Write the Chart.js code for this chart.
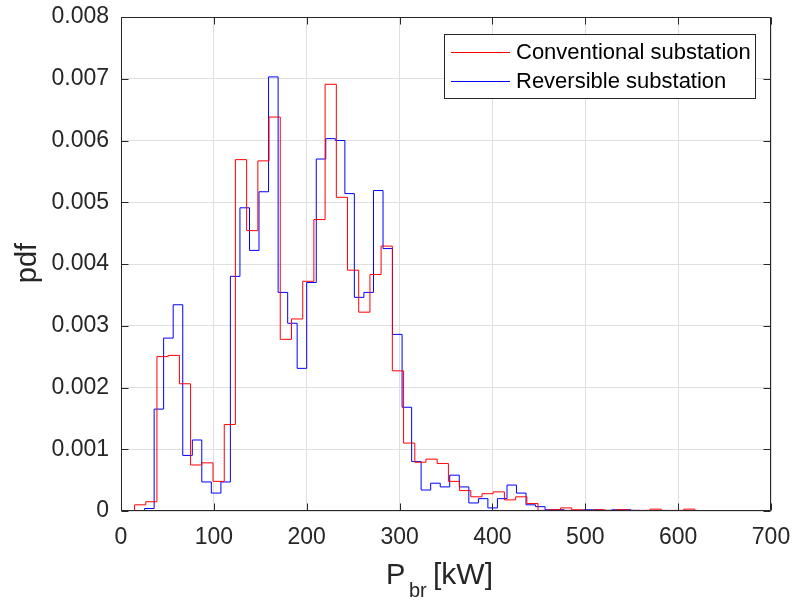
<!DOCTYPE html>
<html><head><meta charset="utf-8">
<script src="https://cdn.jsdelivr.net/npm/chart.js@4.4.0/dist/chart.umd.min.js"></script>
<style>html,body{margin:0;padding:0;background:#fff;} canvas{display:block;}</style>
</head><body>
<canvas id="c" width="794" height="601"></canvas>
<script>
// ---- data ----
const seriesNames = ['Conventional substation', 'Reversible substation'];
const xTicks = [0, 100, 200, 300, 400, 500, 600, 700];
const yTicks = [0, 0.001, 0.002, 0.003, 0.004, 0.005, 0.006, 0.007, 0.008];

// bin edges in kW
const redEdges = [14.6, 26.7, 38.7, 50.8, 62.9, 74.9, 87.0, 99.1, 111.2, 123.2,
  135.3, 147.4, 159.4, 171.5, 183.6, 195.7, 207.7, 219.8, 231.9, 243.9,
  256.0, 268.1, 280.1, 292.2, 304.3, 316.4, 328.4, 340.5, 352.6, 364.6,
  376.7, 388.8, 400.8, 412.9, 425.0, 437.1, 449.1, 461.2, 473.3, 485.3,
  497.4, 509.5, 521.5, 533.6, 545.7, 557.8, 569.8, 581.9, 594.0, 606.0, 618.1];
const redValues = [0.0001, 0.00015, 0.0025, 0.00252, 0.00206, 0.000745, 0.00078, 0.00048, 0.0014, 0.00569,
  0.00454, 0.00567, 0.00638, 0.00278, 0.00311, 0.00372, 0.00472, 0.00691, 0.00508, 0.0039,
  0.00322, 0.00383, 0.00429, 0.00227, 0.0011, 0.00079, 0.00084, 0.00077, 0.00048, 0.00033,
  0.00023, 0.00028, 0.00031, 0.00018, 0.00023, 0.00012, 0.00001, 0.00002, 0.00005, 0.00002,
  0.00001, 0.00002, 0.00001, 0.00002, 0.00001, 0.00001, 0.00003, 0.00001, 0.00001, 0.00003];

const blueEdges = [25.4, 35.7, 45.9, 56.2, 66.5, 76.8, 87.0, 97.3, 107.6, 117.8,
  128.1, 138.4, 148.6, 158.9, 169.2, 179.5, 189.7, 200.0, 210.3, 220.5,
  230.8, 241.1, 251.3, 261.6, 271.9, 282.2, 292.4, 302.7, 313.0, 323.2,
  333.5, 343.8, 354.0, 364.3, 374.6, 384.9, 395.1, 405.4, 415.7, 425.9,
  436.2, 446.5, 456.7, 467.0, 477.3, 487.6, 497.8, 508.1, 518.4, 528.6,
  538.9, 549.2, 559.4];
const blueValues = [0.00004, 0.00165, 0.0028, 0.00334, 0.0009, 0.00115, 0.00047, 0.00029, 0.00047, 0.0038,
  0.00491, 0.00422, 0.00517, 0.00703, 0.00354, 0.00304, 0.00231, 0.0037, 0.0057, 0.00603,
  0.006, 0.00514, 0.00346, 0.00354, 0.00519, 0.00425, 0.00286, 0.00168, 0.0008, 0.00034,
  0.00045, 0.00039, 0.00058, 0.00039, 0.00013, 0.0002, 0.00005, 0.0002, 0.00042, 0.00029,
  0.0001, 0.00007, 0.00002, 0.00002, 0.00001, 0.00001, 0.00002, 0.00002, 0.00001, 0.00002,
  0.00002, 0.00001];

const seriesColors = ['#ff0000', '#0000ff'];

// ---- build stair points from the arrays ----
function stairs(edges, values) {
  const pts = [{x: edges[0], y: 0}];
  for (let i = 0; i < values.length; i++) pts.push({x: edges[i], y: values[i]});
  pts.push({x: edges[values.length], y: 0});
  return pts;
}

const FONT = '"Liberation Sans", Arial, Helvetica, sans-serif';
const AXC = '#262626';

const frame = {
  id: 'frame',
  afterDraw(chart) {
    const ctx = chart.ctx, a = chart.chartArea;
    const xs = chart.scales.x, ys = chart.scales.y;
    ctx.save();
    ctx.strokeStyle = AXC; ctx.lineWidth = 1;
    const L = Math.round(a.left) + 0.5, R = Math.round(a.right) - 0.5;
    const T = Math.round(a.top) + 0.5, B = Math.round(a.bottom) - 0.5;
    ctx.beginPath();
    ctx.rect(L, T, R - L, B - T);
    const tl = 7;
    xTicks.forEach(v => {
      const p = Math.round(xs.getPixelForValue(v)) + 0.5;
      ctx.moveTo(p, B); ctx.lineTo(p, B - tl);
      ctx.moveTo(p, T); ctx.lineTo(p, T + tl);
    });
    yTicks.forEach(v => {
      const p = Math.round(ys.getPixelForValue(v)) + 0.5;
      ctx.moveTo(L, p); ctx.lineTo(L + tl, p);
      ctx.moveTo(R, p); ctx.lineTo(R - tl, p);
    });
    ctx.stroke();

    // legend
    const lx = 444.5, ly = 34.5, lw = 311, lh = 64;
    ctx.fillStyle = '#fff';
    ctx.fillRect(lx, ly, lw, lh);
    ctx.strokeStyle = AXC;
    ctx.strokeRect(lx, ly, lw, lh);
    const rows = [52.5, 81.5];
    ctx.font = '22px ' + FONT;
    ctx.textBaseline = 'middle'; ctx.textAlign = 'left';
    seriesNames.forEach((n, i) => {
      ctx.strokeStyle = seriesColors[i]; ctx.lineWidth = 1;
      ctx.beginPath(); ctx.moveTo(451, rows[i]); ctx.lineTo(510, rows[i]); ctx.stroke();
      ctx.fillStyle = '#000';
      ctx.fillText(n, 516, rows[i]);
    });

    // x title with subscript
    ctx.fillStyle = AXC;
    ctx.textBaseline = 'alphabetic';
    ctx.font = '29px ' + FONT;
    ctx.fillText('P', 386, 584);
    ctx.font = '20px ' + FONT;
    ctx.fillText('br', 409, 597);
    ctx.font = '30px ' + FONT;
    ctx.fillText('[kW]', 433, 584);

    // y title
    ctx.save();
    ctx.translate(36, 263);
    ctx.rotate(-Math.PI / 2);
    ctx.textAlign = 'center';
    ctx.textBaseline = 'alphabetic';
    ctx.font = '29px ' + FONT;
    ctx.fillText('pdf', 0, 0);
    ctx.restore();
    ctx.restore();
  }
};

new Chart(document.getElementById('c'), {
  type: 'line',
  data: {
    datasets: [
      {label: seriesNames[0], data: stairs(redEdges, redValues), borderColor: seriesColors[0], borderWidth: 1, pointRadius: 0, stepped: 'before', fill: false},
      {label: seriesNames[1], data: stairs(blueEdges, blueValues), borderColor: seriesColors[1], borderWidth: 1, pointRadius: 0, stepped: 'before', fill: false}
    ]
  },
  options: {
    responsive: false,
    animation: false,
    devicePixelRatio: 1,
    layout: {padding: {left: 0, right: 23, top: 17, bottom: 0}},
    plugins: {legend: {display: false}, tooltip: {enabled: false}},
    scales: {
      x: {
        type: 'linear', min: 0, max: 700,
        afterBuildTicks: s => { s.ticks = xTicks.map(v => ({value: v})); },
        afterFit: s => { s.height = 90; s.paddingLeft = 0; s.paddingRight = 0; s.paddingTop = 0; s.paddingBottom = 0; },
        grid: {color: '#dfdfdf', drawTicks: false},
        border: {display: false},
        ticks: {color: AXC, font: {family: FONT, size: 23}, padding: 13, maxRotation: 0, callback: v => String(v)}
      },
      y: {
        type: 'linear', min: 0, max: 0.008,
        afterBuildTicks: s => { s.ticks = yTicks.map(v => ({value: v})); },
        afterFit: s => { s.width = 121; s.paddingLeft = 0; s.paddingRight = 0; s.paddingTop = 0; s.paddingBottom = 0; },
        grid: {color: '#dfdfdf', drawTicks: false},
        border: {display: false},
        ticks: {color: AXC, font: {family: FONT, size: 23}, padding: 12, callback: v => v === 0 ? '0' : v.toFixed(3)}
      }
    }
  },
  plugins: [frame]
});
</script>
</body></html>
